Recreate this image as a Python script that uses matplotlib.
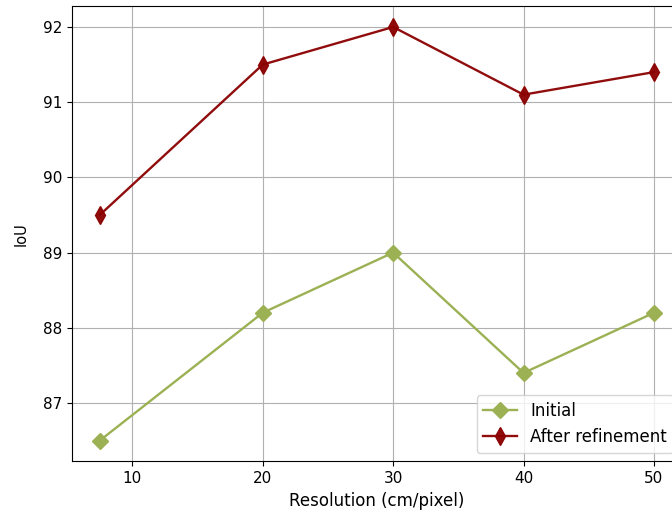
import matplotlib
matplotlib.use("Agg")
import matplotlib.pyplot as plt

resolution = [7.5, 20, 30, 40, 50]
initial = [86.5, 88.2, 89.0, 87.4, 88.2]
refined = [89.5, 91.5, 92.0, 91.1, 91.4]

fig = plt.figure(figsize=(6.72, 5.16), dpi=100)
ax = fig.add_axes([72/672, 1-461.3/516, 609.7/672, 455/516])
ax.plot(resolution, initial, marker='D', color='#9bb153', markersize=8, linewidth=1.7, label='Initial')
ax.plot(resolution, refined, marker='d', color='#8b0000', markersize=9, linewidth=1.7, label='After refinement', alpha=0.95)
ax.set_xlabel('Resolution (cm/pixel)', fontsize=12)
ax.set_ylabel('IoU', fontsize=10.5)
ax.yaxis.set_label_coords(-0.071, 0.5)
ax.tick_params(labelsize=11)
ax.grid(True)
ax.legend(loc='lower right', fontsize=12)
fig.savefig('out.png', dpi=100)
